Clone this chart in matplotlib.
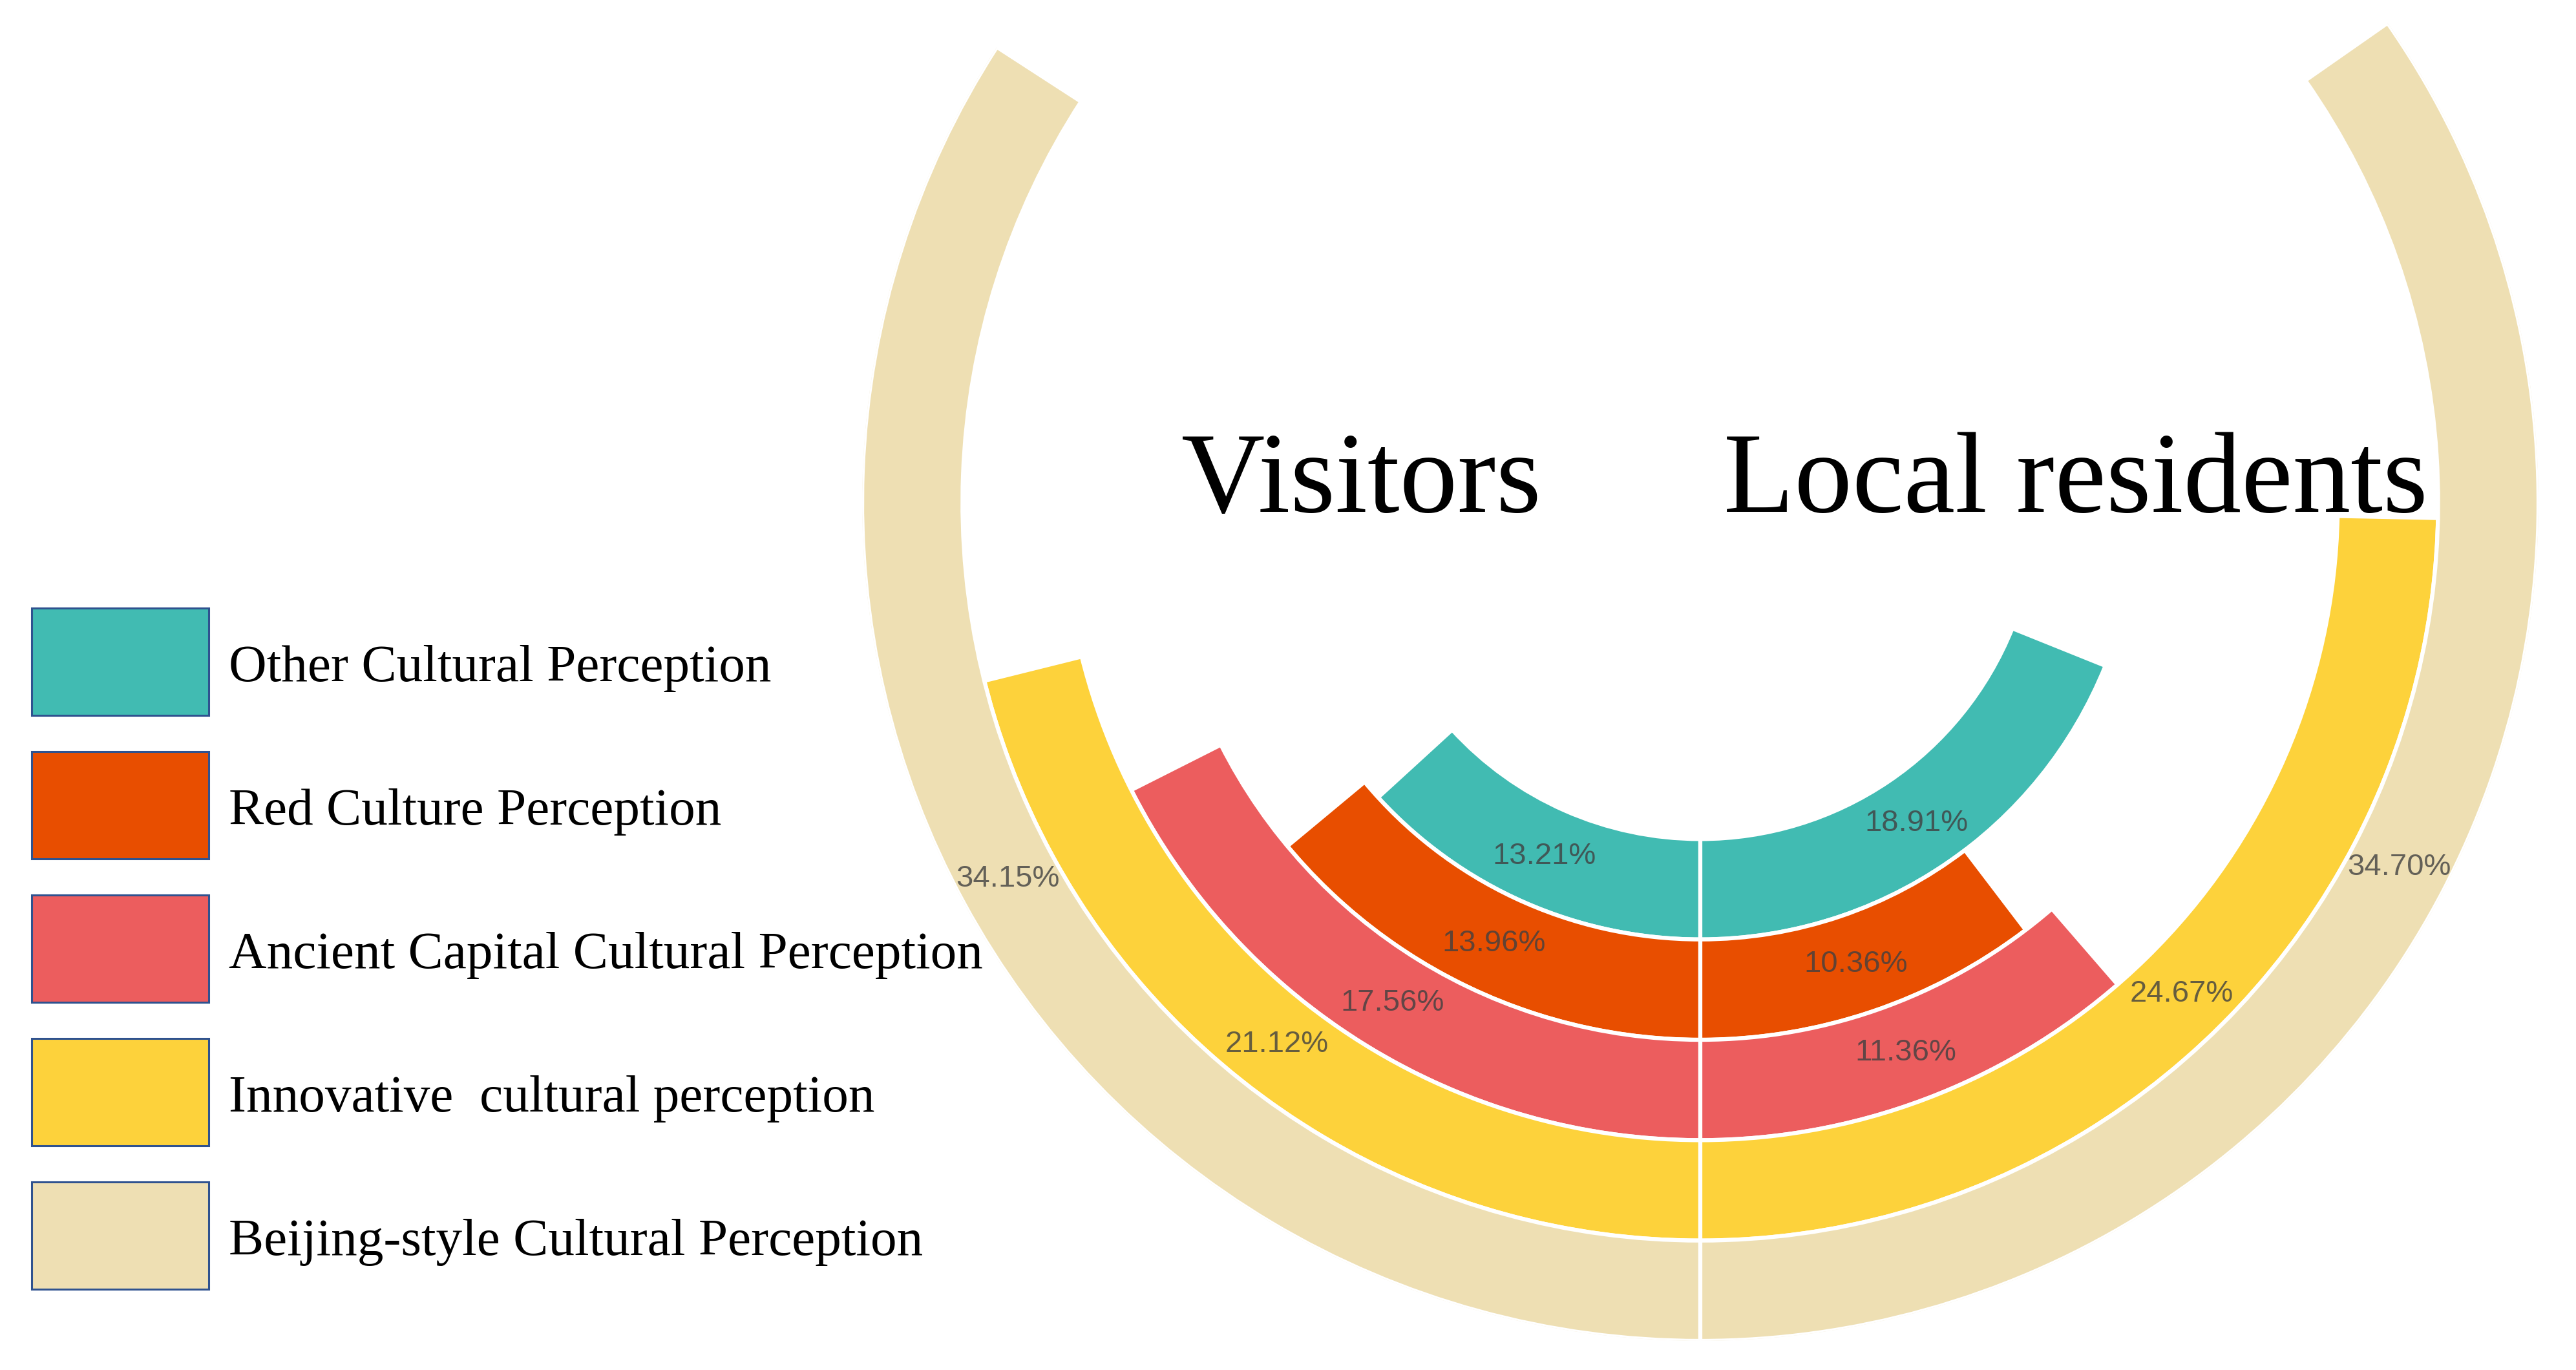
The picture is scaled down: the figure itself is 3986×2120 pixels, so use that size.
import numpy as np
import matplotlib.pyplot as plt
from matplotlib.patches import Rectangle

# categories, inner ring first
categories = ['Other Cultural Perception', 'Red Culture Perception',
              'Ancient Capital Cultural Perception', 'Innovative  cultural perception',
              'Beijing-style Cultural Perception']
visitors = [13.21, 13.96, 17.56, 21.12, 34.15]
residents = [18.91, 10.36, 11.36, 24.67, 34.70]
colors = ['#41bbb2', '#e84e00', '#ec5d5e', '#fdd23b', '#eedfb3']

W, H = 3986, 2120
fig = plt.figure(figsize=(W / 100, H / 100), dpi=100)

# polar axes placed so the centre sits at (2631, 778) px from top-left
cx, cy, R = 2631, H - 778, 1297
ax = fig.add_axes([(cx - R) / W, (cy - R) / H, 2 * R / W, 2 * R / H], projection='polar')
ax.set_theta_zero_location('S')
ax.set_theta_direction(-1)

hole = 3.35
for i, (v, r, c) in enumerate(zip(visitors, residents, colors)):
    tv = v / 100 * 2 * np.pi
    tr = r / 100 * 2 * np.pi
    ax.bar(0, 1, width=tv, bottom=hole + i, align='edge', color=c,
           edgecolor='white', linewidth=4.5)
    ax.bar(-tr, 1, width=tr, bottom=hole + i, align='edge', color=c,
           edgecolor='white', linewidth=4.5)
    lab_kw = dict(ha='center', va='center', fontsize=34, color='#404040', alpha=0.8,
                  family=['Liberation Sans Narrow', 'Liberation Sans'])
    ax.text(tv / 2, hole + i + 0.5, f'{v:.2f}%', **lab_kw)
    ax.text(-tr / 2, hole + i + 0.5, f'{r:.2f}%', **lab_kw)

ax.set_ylim(0, hole + len(categories))
ax.axis('off')

# group titles
fig.text(1828 / W, 1 - 792 / H, 'Visitors', fontsize=129, family='Liberation Serif',
         va='baseline', ha='left')
fig.text(2667 / W, 1 - 792 / H, 'Local residents', fontsize=129, family='Liberation Serif',
         va='baseline', ha='left')

# legend boxes drawn by hand
box_x, box_w, box_h = 49, 274, 166
first_top, step = 941, 222
for i, (name, c) in enumerate(zip(categories, colors)):
    top = first_top + i * step
    fig.add_artist(Rectangle((box_x / W, 1 - (top + box_h) / H), box_w / W, box_h / H,
                             transform=fig.transFigure, facecolor=c,
                             edgecolor='#2f528f', linewidth=2.2))
    fig.text(354 / W, 1 - (top + box_h / 2 + 30) / H, name, fontsize=58.5,
             family='Liberation Serif', va='baseline', ha='left')

fig.savefig('out.png', dpi=100, facecolor='white')
